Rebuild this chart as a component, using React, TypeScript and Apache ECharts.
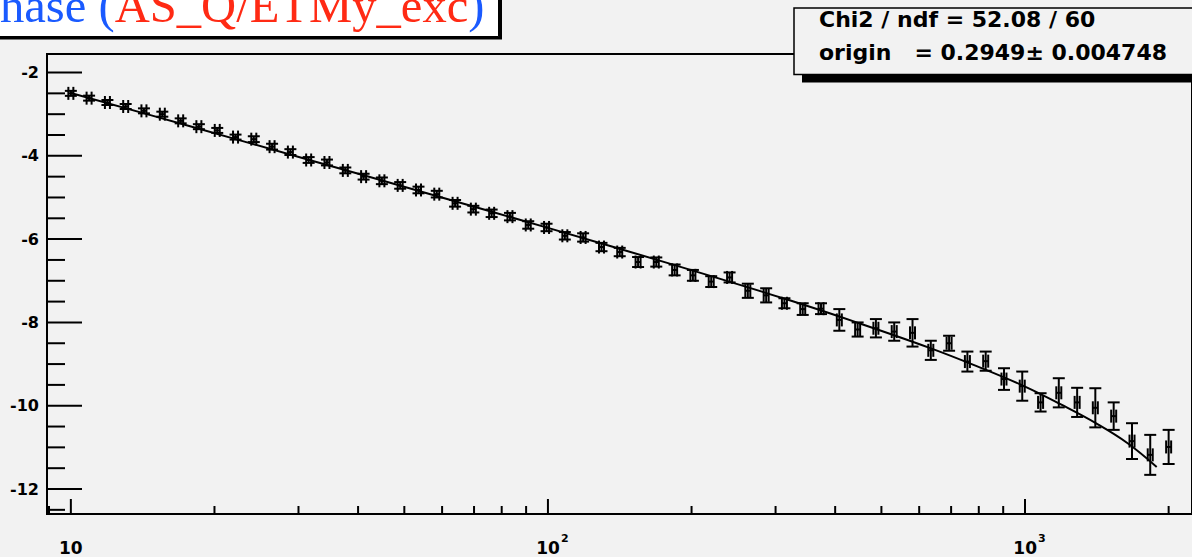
import React, { useEffect, useRef } from "react";
import * as echarts from "echarts";

// ---- data ----
const pointX = [
  10, 10.92, 11.93, 13.03, 14.23, 15.55, 16.99, 18.55, 20.27, 22.14,
  24.18, 26.41, 28.85, 31.51, 34.42, 37.61, 41.08, 44.87, 49.01, 53.54,
  58.48, 63.88, 69.77, 76.21, 83.25, 90.93, 99.33, 108.5, 118.5, 129.5,
  141.4, 154.5, 168.7, 184.3, 201.3, 219.9, 240.3, 262.4, 286.7, 313.1,
  342.0, 373.6, 408.1, 445.8, 486.9, 531.9, 581.0, 634.6, 693.2, 757.2,
  827.1, 903.4, 986.7, 1078, 1177, 1286, 1404, 1534, 1676, 1830, 2000,
];
const pointY = [
  -2.5, -2.615, -2.72, -2.815, -2.92, -3.0, -3.16, -3.3, -3.39, -3.55,
  -3.6, -3.78, -3.91, -4.1, -4.16, -4.35, -4.5, -4.6, -4.71, -4.82,
  -4.92, -5.14, -5.28, -5.38, -5.46, -5.66, -5.72, -5.92, -5.96, -6.19,
  -6.31, -6.55, -6.55, -6.74, -6.87, -7.02, -6.92, -7.24, -7.35, -7.54,
  -7.68, -7.67, -7.94, -8.17, -8.14, -8.22, -8.25, -8.67, -8.5, -8.94,
  -8.93, -9.36, -9.53, -9.92, -9.69, -9.92, -10.05, -10.25, -10.85, -11.18, -10.99,
];
const pointErr = [
  0.06, 0.06, 0.06, 0.06, 0.06, 0.06, 0.06, 0.06, 0.06, 0.06,
  0.07, 0.07, 0.07, 0.07, 0.07, 0.07, 0.07, 0.08, 0.08, 0.08,
  0.08, 0.08, 0.08, 0.09, 0.09, 0.09, 0.09, 0.09, 0.1, 0.1,
  0.1, 0.12, 0.11, 0.13, 0.13, 0.13, 0.12, 0.17, 0.17, 0.12,
  0.14, 0.13, 0.26, 0.17, 0.22, 0.22, 0.33, 0.23, 0.18, 0.24,
  0.23, 0.26, 0.35, 0.22, 0.35, 0.35, 0.47, 0.33, 0.43, 0.48, 0.41,
];
const fitX = [10, 17.78, 31.62, 56.23, 100, 177.8, 316.2, 446.7, 631, 794.3, 1000, 1189, 1413, 1641, 1888];
const fitY = [-2.49, -3.29, -4.1, -4.91, -5.73, -6.57, -7.445, -8.01, -8.61, -9.055, -9.54, -9.97, -10.43, -10.9, -11.47];

const yLabelValues = [-12, -10, -8, -6, -4, -2];
const yMinorTicks = [-12.5, -11.5, -11, -10.5, -9.5, -9, -8.5, -7.5, -7, -6.5, -5.5, -5, -4.5, -3.5, -3, -2.5];
const xMajorTicks = [10, 100, 1000];
const xMinorTicks = [9, 20, 30, 40, 50, 60, 70, 80, 90, 200, 300, 400, 500, 600, 700, 800, 900, 2000];

const titleParts = ["hase (", "AS_Q/ETMy_exc", ")"];
const statsLines = ["Chi2 / ndf = 52.08 / 60", "origin   = 0.2949\u00b1 0.004748"];

const X_MIN = 8.9125;
const X_MAX = 2238.7;
const Y_MIN = -12.6;
const Y_MAX = -1.555;

const BG = "#f2f2f2";
const SANS = "DejaVu Sans";

export default function App() {
  const ref = useRef<HTMLDivElement>(null);

  useEffect(() => {
    if (!ref.current) return;
    const chart = echarts.init(ref.current, undefined, { renderer: "svg" });
    const sw = { stroke: "#000", lineWidth: 2 };

    const option: any = {
      animation: false,
      backgroundColor: BG,
      grid: {
        left: 47,
        top: 54,
        width: 1150,
        height: 460,
        show: true,
        borderColor: "#000",
        borderWidth: 2,
        backgroundColor: "transparent",
      },
      xAxis: {
        type: "log",
        logBase: 10,
        min: X_MIN,
        max: X_MAX,
        axisLine: { show: false },
        axisTick: { show: false },
        splitLine: { show: false },
        minorTick: { show: false },
        axisLabel: {
          showMinLabel: false,
          showMaxLabel: false,
          margin: 25,
          formatter: (v: number) => {
            const e = Math.log10(v);
            const r = Math.round(e);
            if (Math.abs(e - r) > 1e-6) return "";
            if (r === 1) return "{a0|10}";
            return "{a|10}{s|" + r + "}";
          },
          rich: {
            a0: { fontFamily: SANS, fontWeight: "bold", fontSize: 17, lineHeight: 17, color: "#000", verticalAlign: "bottom", padding: [7, 0, 0, 0] },
            a: { fontFamily: SANS, fontWeight: "bold", fontSize: 17, lineHeight: 17, color: "#000", verticalAlign: "bottom", padding: [0, 0, 0, 9] },
            s: { fontFamily: SANS, fontWeight: "bold", fontSize: 11, lineHeight: 11, color: "#000", verticalAlign: "bottom", padding: [0, 0, 12, 1] },
          },
        },
      },
      yAxis: {
        type: "value",
        min: Y_MIN,
        max: Y_MAX,
        axisLine: { show: false },
        axisTick: { show: false },
        splitLine: { show: false },
        axisLabel: {
          customValues: yLabelValues,
          margin: 8,
          fontFamily: SANS,
          fontWeight: "bold",
          fontSize: 16,
          color: "#000",
          formatter: (v: number) => String(Math.round(v)),
        },
      },
      series: [
        {
          type: "line",
          data: fitX.map((x, i) => [x, fitY[i]]),
          smooth: 0.4,
          showSymbol: false,
          symbol: "none",
          lineStyle: { color: "#000", width: 2 },
          silent: true,
          z: 2,
        },
        {
          type: "custom",
          silent: true,
          z: 3,
          data: pointX.map((x, i) => [x, pointY[i], pointErr[i]]),
          renderItem: (params: any, api: any) => {
            const x = api.value(0);
            const y = api.value(1);
            const e = api.value(2);
            const c = api.coord([x, y]);
            const t = api.coord([x, y + e]);
            const b = api.coord([x, y - e]);
            return {
              type: "group",
              children: [
                { type: "line", shape: { x1: c[0], y1: t[1], x2: c[0], y2: b[1] }, style: sw },
                { type: "line", shape: { x1: c[0] - 6, y1: t[1], x2: c[0] + 6, y2: t[1] }, style: sw },
                { type: "line", shape: { x1: c[0] - 6, y1: b[1], x2: c[0] + 6, y2: b[1] }, style: sw },
                { type: "line", shape: { x1: c[0] - 2.5, y1: c[1], x2: c[0] + 2.5, y2: c[1] }, style: sw },
                { type: "line", shape: { x1: c[0] - 2.5, y1: c[1] - 6.5, x2: c[0] - 2.5, y2: c[1] + 6.5 }, style: sw },
                { type: "line", shape: { x1: c[0] + 2.5, y1: c[1] - 6.5, x2: c[0] + 2.5, y2: c[1] + 6.5 }, style: sw },
              ],
            };
          },
        },
        {
          type: "custom",
          silent: true,
          z: 4,
          data: xMajorTicks.map((v) => [v, Y_MIN]),
          renderItem: (params: any, api: any) => {
            const p = api.coord([api.value(0), api.value(1)]);
            return { type: "line", shape: { x1: p[0], y1: p[1], x2: p[0], y2: p[1] - 15 }, style: sw };
          },
        },
        {
          type: "custom",
          silent: true,
          z: 4,
          data: xMinorTicks.map((v) => [v, Y_MIN]),
          renderItem: (params: any, api: any) => {
            const p = api.coord([api.value(0), api.value(1)]);
            return { type: "line", shape: { x1: p[0], y1: p[1], x2: p[0], y2: p[1] - 8 }, style: sw };
          },
        },
        {
          type: "custom",
          silent: true,
          z: 4,
          data: yLabelValues.map((v) => [X_MIN, v]),
          renderItem: (params: any, api: any) => {
            const p = api.coord([api.value(0), api.value(1)]);
            return { type: "line", shape: { x1: p[0], y1: p[1], x2: p[0] + 35, y2: p[1] }, style: sw };
          },
        },
        {
          type: "custom",
          silent: true,
          z: 4,
          data: yMinorTicks.map((v) => [X_MIN, v]),
          renderItem: (params: any, api: any) => {
            const p = api.coord([api.value(0), api.value(1)]);
            return { type: "line", shape: { x1: p[0], y1: p[1], x2: p[0] + 18, y2: p[1] }, style: sw };
          },
        },
      ],
      graphic: [
        // title box
        { type: "rect", z: 100, shape: { x: -10, y: -10, width: 512, height: 49.5 }, style: { fill: "#000" } },
        { type: "rect", z: 101, shape: { x: -10, y: -10, width: 508.5, height: 46.5 }, style: { fill: "#ffffff", stroke: "#000", lineWidth: 1 } },
        {
          type: "text",
          z: 102,
          style: {
            x: 0,
            y: 5.5,
            text: "{b|" + titleParts[0] + "}{r|" + titleParts[1] + "}{b|" + titleParts[2] + "}",
            textAlign: "left",
            textVerticalAlign: "middle",
            rich: {
              b: { fontFamily: "Liberation Serif", fontSize: 48.6, fill: "#1a5aff", color: "#1a5aff" },
              r: { fontFamily: "Liberation Serif", fontSize: 48.6, fill: "#ff2a14", color: "#ff2a14" },
            },
          },
        },
        // stats box
        { type: "rect", z: 100, shape: { x: 802, y: 16, width: 500, height: 66.5 }, style: { fill: "#000" } },
        { type: "rect", z: 101, shape: { x: 794, y: 8, width: 500, height: 66.5 }, style: { fill: BG, stroke: "#000", lineWidth: 1.5 } },
        {
          type: "text",
          z: 102,
          style: { x: 819, y: 19.1, text: statsLines[0], fontFamily: SANS, fontWeight: "bold", fontSize: 22, fill: "#000", textVerticalAlign: "middle" },
        },
        {
          type: "text",
          z: 102,
          style: { x: 819, y: 52.9, text: statsLines[1], fontFamily: SANS, fontWeight: "bold", fontSize: 22, fill: "#000", textVerticalAlign: "middle" },
        },
      ],
    };

    chart.setOption(option);
    return () => chart.dispose();
  }, []);

  return (
    <div
      ref={ref}
      style={{ position: "fixed", left: 0, top: 0, width: 1192, height: 557, background: BG }}
    />
  );
}
